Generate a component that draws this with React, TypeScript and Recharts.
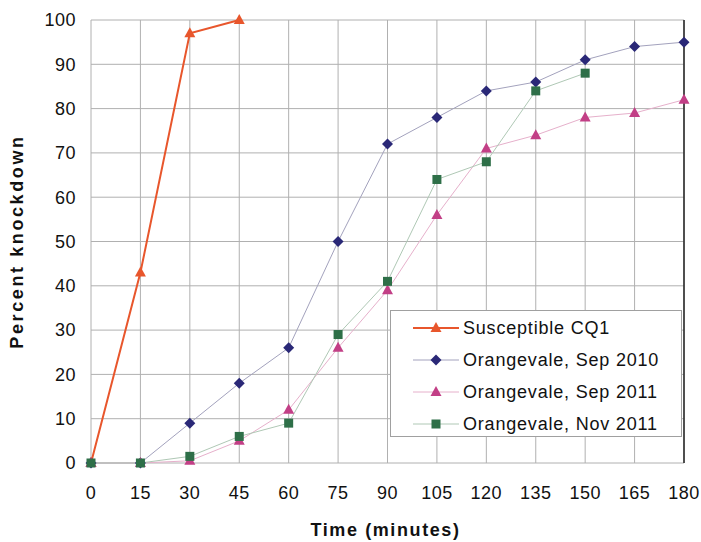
import React from 'react'
import { LineChart, Line, XAxis, YAxis, CartesianGrid, ReferenceLine } from 'recharts'

const minutes = [0, 15, 30, 45, 60, 75, 90, 105, 120, 135, 150, 165, 180]
const susceptible = [0, 43, 97, 100]
const sep2010 = [0, 0, 9, 18, 26, 50, 72, 78, 84, 86, 91, 94, 95]
const sep2011 = [0, 0, 0.5, 5, 12, 26, 39, 56, 71, 74, 78, 79, 82]
const nov2011 = [0, 0, 1.5, 6, 9, 29, 41, 64, 68, 84, 88]
const yTicks = [0, 10, 20, 30, 40, 50, 60, 70, 80, 90, 100]

const font = '"Liberation Sans", Arial, sans-serif'

const data = minutes.map((t, i) => ({
  t,
  cq1: susceptible[i],
  s10: sep2010[i],
  s11: sep2011[i],
  n11: nov2011[i],
}))

type Shape = 'triangle' | 'diamond' | 'square'

function Marker({ shape, x, y, color }: { shape: Shape; x: number; y: number; color: string }) {
  if (shape === 'triangle') {
    return <polygon points={`${x},${y - 6} ${x + 5.5},${y + 4} ${x - 5.5},${y + 4}`} fill={color} />
  }
  if (shape === 'diamond') {
    return <polygon points={`${x},${y - 5.5} ${x + 5.5},${y} ${x},${y + 5.5} ${x - 5.5},${y}`} fill={color} />
  }
  return <rect x={x - 4.5} y={y - 4.5} width={9} height={9} fill={color} />
}

const dotFor = (shape: Shape, color: string) => (props: any) => {
  const { cx, cy, key, index } = props
  if (cx == null || cy == null || Number.isNaN(cy)) return <g key={key ?? index} />
  return <Marker key={key ?? index} shape={shape} x={cx} y={cy} color={color} />
}

const series = [
  { key: 'cq1', name: 'Susceptible CQ1', line: '#e8562c', marker: '#e8562c', shape: 'triangle' as Shape, width: 2 },
  { key: 's10', name: 'Orangevale, Sep 2010', line: '#a3a2bd', marker: '#2a2877', shape: 'diamond' as Shape, width: 1 },
  { key: 's11', name: 'Orangevale, Sep 2011', line: '#e6b0cb', marker: '#c23f86', shape: 'triangle' as Shape, width: 1 },
  { key: 'n11', name: 'Orangevale, Nov 2011', line: '#afc8b5', marker: '#2e6f48', shape: 'square' as Shape, width: 1 },
]

export default function App() {
  return (
    <div style={{ position: 'absolute', left: 0, top: 0, width: 701, height: 542, background: '#fff', fontFamily: font }}>
      <LineChart width={701} height={542} data={data} margin={{ top: 20, right: 17, left: 0, bottom: 0 }}>
        <CartesianGrid stroke="#b0b0b0" strokeWidth={1} verticalValues={minutes} horizontalValues={yTicks} />
        <XAxis
          dataKey="t"
          type="number"
          domain={[0, 180]}
          ticks={minutes}
          height={79}
          axisLine={false}
          tickLine={false}
          tickSize={0}
          tickMargin={23}
          tick={{ fill: '#111', fontSize: 18, fontFamily: font, letterSpacing: 0.5 }}
          label={{ value: 'Time (minutes)', position: 'insideBottom', offset: 6, dx: -2, fill: '#111', fontSize: 18, fontWeight: 'bold', fontFamily: font, letterSpacing: 1.6 }}
        />
        <YAxis
          type="number"
          domain={[0, 100]}
          ticks={yTicks}
          width={91}
          axisLine={false}
          tickLine={false}
          tickSize={0}
          tickMargin={15}
          tick={{ fill: '#111', fontSize: 18, fontFamily: font, letterSpacing: 0.5 }}
          label={{ value: 'Percent knockdown', angle: -90, position: 'insideLeft', offset: 17, fill: '#111', fontSize: 18, fontWeight: 'bold', fontFamily: font, letterSpacing: 2.6, style: { textAnchor: 'middle' } }}
        />
        <ReferenceLine x={180} stroke="#222" strokeWidth={1.5} />
        {series.map((s) => (
          <Line
            key={s.key}
            dataKey={s.key}
            name={s.name}
            type="linear"
            stroke={s.line}
            strokeWidth={s.width}
            dot={dotFor(s.shape, s.marker)}
            activeDot={false}
            isAnimationActive={false}
          />
        ))}
      </LineChart>
      <div
        style={{
          position: 'absolute',
          left: 390,
          top: 310,
          width: 292,
          height: 127,
          background: '#fff',
          border: '1px solid #a0a0a0',
          boxSizing: 'border-box',
        }}
      >
        {series.map((s, i) => (
          <div key={s.key} style={{ position: 'absolute', left: 22, top: 5 + i * 32, height: 24, display: 'flex', alignItems: 'center' }}>
            <svg width={46} height={24}>
              <line x1={0} x2={46} y1={12} y2={12} stroke={s.line} strokeWidth={s.width} />
              <Marker shape={s.shape} x={23} y={12} color={s.marker} />
            </svg>
            <span style={{ marginLeft: 4, fontSize: 18, letterSpacing: 0.8, color: '#111', whiteSpace: 'nowrap' }}>{s.name}</span>
          </div>
        ))}
      </div>
    </div>
  )
}
